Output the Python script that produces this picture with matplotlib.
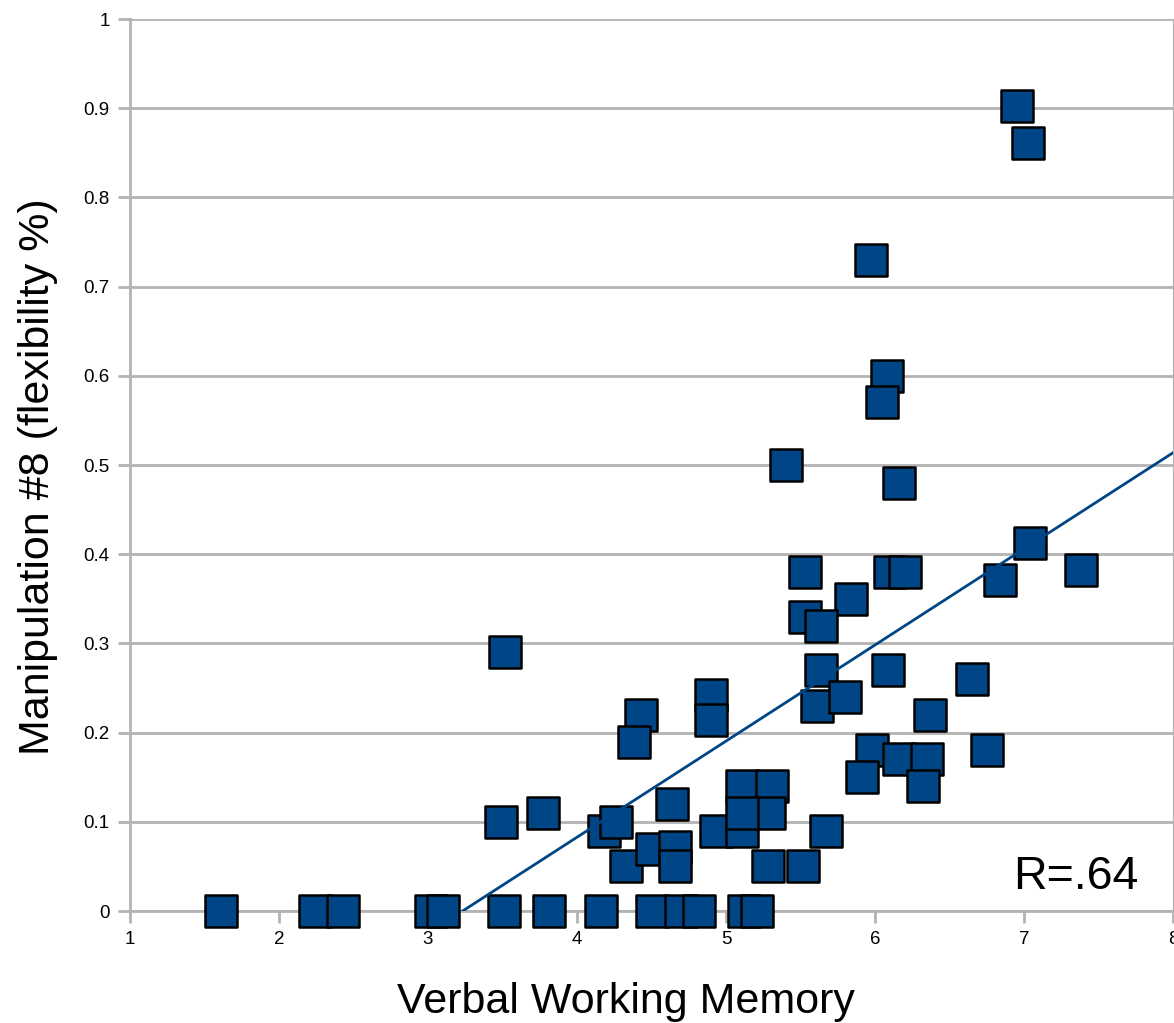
import numpy as np
import matplotlib
matplotlib.use("Agg")
import matplotlib.pyplot as plt

plt.rcParams['font.family'] = ['Liberation Sans', 'DejaVu Sans']

# Data
vwm = [1.61, 2.24, 2.43, 3.02, 3.10, 3.51, 3.81, 4.16, 4.50, 4.70, 4.82, 5.12, 5.21,
       3.52, 4.43, 4.38, 4.90, 4.90, 3.49, 3.77, 4.18, 4.26, 4.33, 4.50, 4.66, 4.66,
       4.64, 4.93, 5.53, 6.10, 6.20, 7.04, 5.84, 5.53, 5.64, 5.64, 6.09, 6.65, 5.61,
       5.80, 6.37, 5.98, 5.91, 6.16, 6.35, 6.32, 6.75, 5.11, 5.31, 5.11, 5.29, 5.11,
       5.67, 5.28, 5.52, 5.97, 6.08, 6.05, 5.40, 6.16, 6.84, 6.95, 7.03, 7.38]
flex = [0, 0, 0, 0, 0, 0, 0, 0, 0, 0, 0, 0, 0,
        0.29, 0.22, 0.19, 0.242, 0.214, 0.10, 0.11, 0.09, 0.10, 0.05, 0.07, 0.072, 0.05,
        0.12, 0.09, 0.38, 0.38, 0.38, 0.413, 0.35, 0.33, 0.32, 0.27, 0.27, 0.26, 0.23,
        0.24, 0.22, 0.18, 0.15, 0.17, 0.17, 0.14, 0.18, 0.14, 0.14, 0.09, 0.11, 0.11,
        0.09, 0.05, 0.05, 0.73, 0.60, 0.571, 0.50, 0.48, 0.371, 0.903, 0.861, 0.382]
x_ticks = [1, 2, 3, 4, 5, 6, 7, 8]
y_ticks = [0, 0.1, 0.2, 0.3, 0.4, 0.5, 0.6, 0.7, 0.8, 0.9, 1]
y_tick_labels = ["0", "0.1", "0.2", "0.3", "0.4", "0.5", "0.6", "0.7", "0.8", "0.9", "1"]
x_label = "Verbal Working Memory"
y_label = "Manipulation #8 (flexibility %)"
annotation = "R=.64"

blue = "#004586"
grid = "#b3b3b3"
W, H = 1174, 1023

fig = plt.figure(figsize=(W / 100, H / 100), dpi=100)
ax = fig.add_axes([130 / W, 1 - 911 / H, (1173 - 130) / W, (911 - 19) / H])

ax.set_xlim(1, 8)
ax.set_ylim(0, 1)
ax.set_xticks(x_ticks)
ax.set_xticklabels([str(t) for t in x_ticks])
ax.set_yticks(y_ticks)
ax.set_yticklabels(y_tick_labels)
ax.yaxis.grid(True, color=grid, linewidth=2)
ax.set_axisbelow(True)

ax.spines['top'].set_visible(False)
ax.spines['right'].set_color(grid)
ax.spines['right'].set_linewidth(0.8)
for s in ['left', 'bottom']:
    ax.spines[s].set_color(grid)
    ax.spines[s].set_linewidth(2)
ax.tick_params(axis='both', color=grid, width=2, length=8.5, labelsize=13.5, labelcolor='black')
ax.tick_params(axis='x', pad=6)
ax.tick_params(axis='y', pad=6)

x = np.array(vwm)
y = np.array(flex)
ax.scatter(x, y, marker='s', s=23**2, facecolor=blue, edgecolor='black', linewidth=1.8,
           zorder=3, clip_on=False)

# linear trend line
m, b = np.polyfit(x, y, 1)
xs = np.linspace(1, 8, 200)
ax.plot(xs, m * xs + b, color=blue, linewidth=2, zorder=4)

fig.text(1013 / W, 1 - 889 / H, annotation, fontsize=33.5, ha='left', va='baseline')

fig.text(626 / W, 1 - 1013 / H, x_label, fontsize=31, ha='center', va='baseline')
fig.text(49 / W, 1 - 477 / H, y_label, fontsize=31, ha='center', va='baseline',
         rotation=90, rotation_mode='anchor')

fig.savefig("out.png", dpi=100)
